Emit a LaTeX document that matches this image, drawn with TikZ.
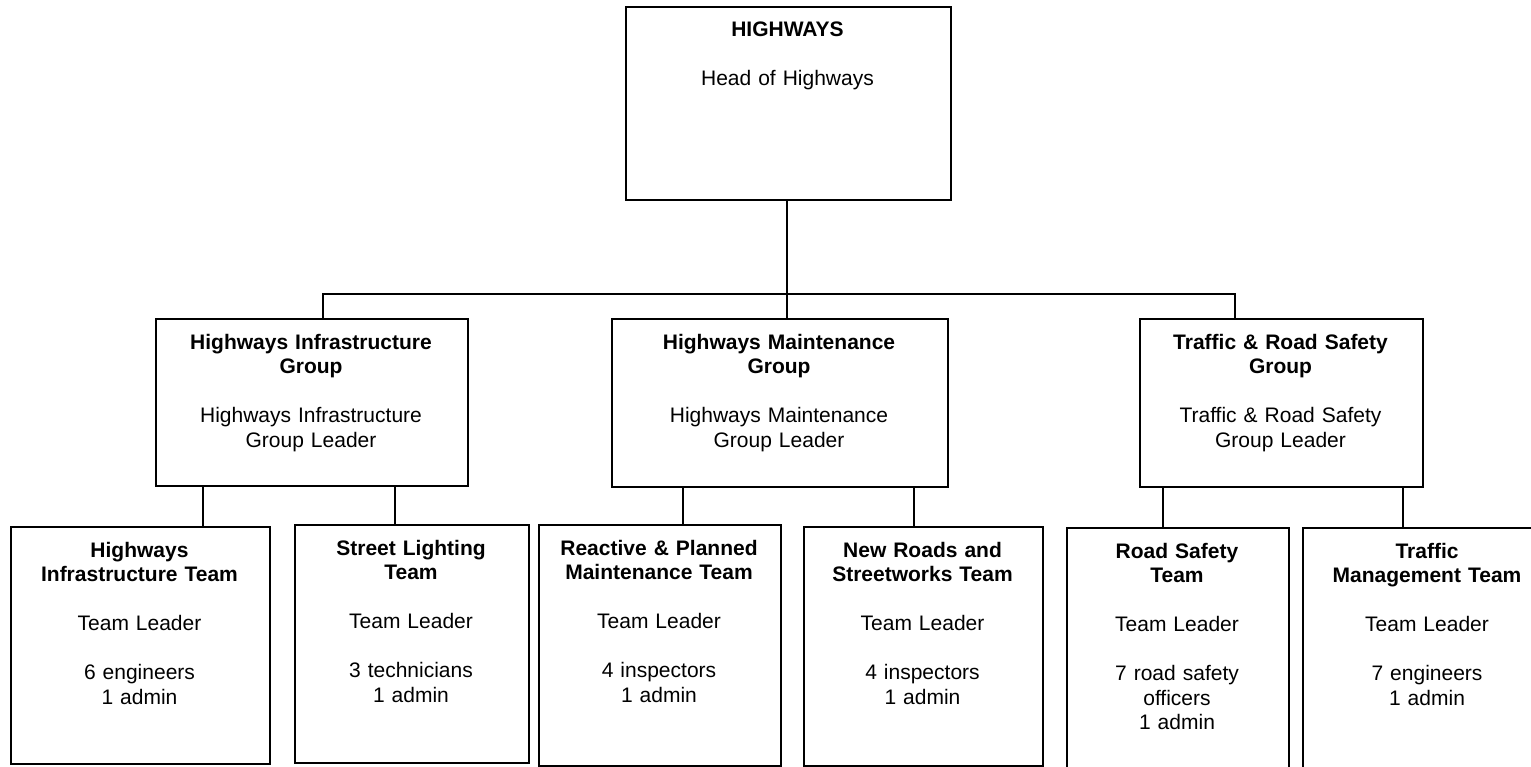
\documentclass[tikz,border=0pt]{standalone}
\usepackage{fontspec}
\setmainfont{Liberation Sans}
\newcommand\obox[5]{\node[orgbox, minimum width={(#4-#2)*1pt}, minimum height={(#5-#3)*1pt}] (#1) at (#2,#3) {};}
\tikzset{
  orgbox/.style={draw, line width=1.6pt, inner sep=0pt, anchor=north west},
  txt/.style={anchor=base, align=center, inner sep=0pt, font=\fontsize{21}{24.5}\selectfont},
  conn/.style={line width=1.6pt}
}
\begin{document}
\begin{tikzpicture}[x=1pt,y=-1pt]
\clip (0,0) rectangle (1531,766);
\fill[white] (0,0) rectangle (1531,766);
% boxes
\obox{top}{625}{6}{950}{199}
\obox{g1}{155}{318}{467}{485}
\obox{g2}{611}{318}{947}{486}
\obox{g3}{1139}{318}{1422}{486}
\obox{t1}{10}{526}{269}{763}
\obox{t2}{294}{524}{528}{762}
\obox{t3}{538}{524}{780}{765}
\obox{t4}{803}{526}{1042}{765}
\obox{t5}{1066}{527}{1288}{775}
\obox{t6}{1302}{527}{1552}{775}
% texts
\node[txt, text width=310pt] (topt) at (787.5,36) {\textbf{HIGHWAYS}\\[24.5pt]Head of Highways};
\node[txt, text width=300pt] (g1t) at (311,349) {\textbf{Highways Infrastructure}\\\textbf{Group}\\[24.5pt]Highways Infrastructure\\Group Leader};
\node[txt, text width=320pt] (g2t) at (779,349) {\textbf{Highways Maintenance}\\\textbf{Group}\\[24.5pt]Highways Maintenance\\Group Leader};
\node[txt, text width=270pt] (g3t) at (1280.5,349) {\textbf{Traffic \& Road Safety}\\\textbf{Group}\\[24.5pt]Traffic \& Road Safety\\Group Leader};
\node[txt, text width=250pt] (t1t) at (139.5,557) {\textbf{Highways}\\\textbf{Infrastructure Team}\\[24.5pt]Team Leader\\[24.5pt]6 engineers\\1 admin};
\node[txt, text width=225pt] (t2t) at (411,555) {\textbf{Street Lighting}\\\textbf{Team}\\[24.5pt]Team Leader\\[24.5pt]3 technicians\\1 admin};
\node[txt, text width=235pt] (t3t) at (659,555) {\textbf{Reactive \& Planned}\\\textbf{Maintenance Team}\\[24.5pt]Team Leader\\[24.5pt]4 inspectors\\1 admin};
\node[txt, text width=230pt] (t4t) at (922.5,557) {\textbf{New Roads and}\\\textbf{Streetworks Team}\\[24.5pt]Team Leader\\[24.5pt]4 inspectors\\1 admin};
\node[txt, text width=215pt] (t5t) at (1177,558) {\textbf{Road Safety}\\\textbf{Team}\\[24.5pt]Team Leader\\[24.5pt]7 road safety\\officers\\1 admin};
\node[txt, text width=240pt] (t6t) at (1427,558) {\textbf{Traffic}\\\textbf{Management Team}\\[24.5pt]Team Leader\\[24.5pt]7 engineers\\1 admin};
% connector coordinates
\coordinate (bus) at (787,294);
\coordinate (j1) at (323,318);
\coordinate (j3) at (1235,318);
\coordinate (c1) at (203,0);
\coordinate (c2) at (395,0);
\coordinate (c3) at (683,0);
\coordinate (c4) at (914,0);
\coordinate (c5) at (1163,0);
\coordinate (c6) at (1403,0);
% connectors
\draw[conn] (top.south -| bus) -- (bus);
\draw[conn] (j1) |- (bus);
\draw[conn] (j3) |- (bus);
\draw[conn] (bus) -- (bus |- g2.north);
\draw[conn] (g1.south -| c1) -- (t1.north -| c1);
\draw[conn] (g1.south -| c2) -- (t2.north -| c2);
\draw[conn] (g2.south -| c3) -- (t3.north -| c3);
\draw[conn] (g2.south -| c4) -- (t4.north -| c4);
\draw[conn] (g3.south -| c5) -- (t5.north -| c5);
\draw[conn] (g3.south -| c6) -- (t6.north -| c6);
\end{tikzpicture}
\end{document}
